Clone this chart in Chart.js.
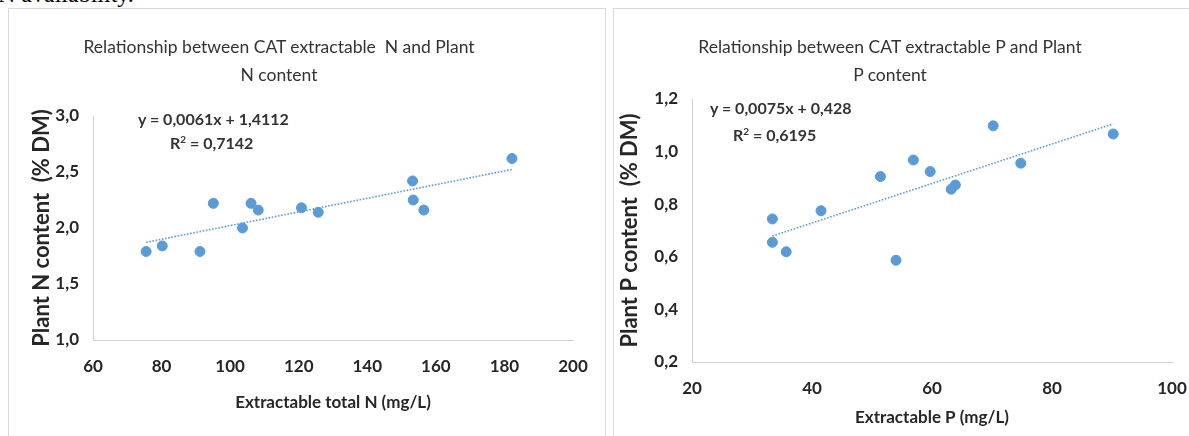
<!DOCTYPE html>
<html>
<head>
<meta charset="utf-8">
<script src="https://cdn.jsdelivr.net/npm/chart.js@4/dist/chart.umd.min.js"></script>
<style>
  html, body { margin: 0; padding: 0; background: #fff; }
  #page { position: relative; width: 1189px; height: 436px; overflow: hidden; background: #fff; font-family: Lato, "Open Sans", sans-serif; }
  .panel { position: absolute; border: 1px solid #d9d9d9; box-sizing: border-box; }
  .title { position: absolute; text-align: center; font-size: 17.5px; line-height: 28px; color: #333; width: 500px; }
  .eq { position: absolute; font-weight: bold; font-size: 16px; line-height: 18px; color: #333; white-space: nowrap; }
  .eq sup { font-size: 10px; line-height: 0; vertical-align: 6px; }
  canvas { position: absolute; }
  #doc { position: absolute; left: -2px; top: -18px; font-family: "Liberation Serif", serif; font-size: 24px; line-height: 24px; color: #000; white-space: nowrap; }
</style>
</head>
<body>
<div id="page">
  <div id="doc">N availability.</div>
  <div class="panel" style="left:8px; top:8px; width:598px; height:460px;"></div>
  <div class="panel" style="left:613px; top:8px; width:600px; height:460px;"></div>
  <canvas id="chartN" width="597" height="428" style="left:8px; top:8px;"></canvas>
  <canvas id="chartP" width="575" height="428" style="left:614px; top:8px;"></canvas>
  <div class="title" style="left:29px; top:33px;">Relationship between CAT extractable&nbsp; N and Plant<br>N content</div>
  <div class="title" style="left:640px; top:33px;">Relationship between CAT extractable P and Plant<br>P content</div>
  <div class="eq" style="left:138px; top:110px;">y = 0,0061x + 1,4112</div>
  <div class="eq" style="left:170px; top:134px;">R<sup>2</sup> = 0,7142</div>
  <div class="eq" style="left:710px; top:99px;">y = 0,0075x + 0,428</div>
  <div class="eq" style="left:733px; top:126px;">R<sup>2</sup> = 0,6195</div>
</div>
<script>
// ---- Data: N chart ----
const nExtractable = [75.5, 80.2, 91.2, 95.1, 103.6, 106.1, 108.2, 120.8, 125.7, 153.2, 153.4, 156.5, 182.2];
const nPlant       = [1.79, 1.84, 1.79, 2.22, 2.00, 2.22, 2.16, 2.18, 2.14, 2.42, 2.25, 2.16, 2.62];
const nTrendX = [75.5, 182.2];
const nTrendY = [1.872, 2.523];
const nXTicks = [60, 80, 100, 120, 140, 160, 180, 200];
const nYTicks = [1.0, 1.5, 2.0, 2.5, 3.0];

// ---- Data: P chart ----
const pExtractable = [33.4, 33.4, 35.7, 41.5, 51.4, 54.0, 56.9, 59.7, 63.2, 63.9, 70.2, 74.8, 90.2];
const pPlant       = [0.744, 0.655, 0.619, 0.775, 0.905, 0.587, 0.968, 0.924, 0.857, 0.873, 1.098, 0.956, 1.067];
const pTrendX = [33.4, 90.2];
const pTrendY = [0.679, 1.105];
const pXTicks = [20, 40, 60, 80, 100];
const pYTicks = [0.2, 0.4, 0.6, 0.8, 1.0, 1.2];

const BLUE = '#5B9BD5';
const AXIS = '#d0d0d0';
const TICK = '#262626';
const FONT = 'Lato, "Open Sans", sans-serif';

function pts(xs, ys) { return xs.map((x, i) => ({ x: x, y: ys[i] })); }
function comma(v) { return Number(v).toFixed(1).replace('.', ','); }

function makeChart(id, cfg) {
  return new Chart(document.getElementById(id), {
    type: 'scatter',
    data: {
      datasets: [
        { data: pts(cfg.tx, cfg.ty), showLine: true, borderColor: BLUE, borderWidth: 1.6, borderDash: [1.6, 1.6],
          pointRadius: 0, fill: false, order: 2 },
        { data: pts(cfg.xs, cfg.ys), backgroundColor: BLUE, borderColor: BLUE, pointRadius: 5, pointHoverRadius: 5, order: 1 }
      ]
    },
    options: {
      responsive: false, animation: false, events: [],
      layout: { padding: cfg.pad },
      plugins: { legend: { display: false }, tooltip: { enabled: false }, title: { display: false } },
      scales: {
        x: {
          type: 'linear', min: cfg.xTicks[0], max: cfg.xTicks[cfg.xTicks.length - 1],
          afterBuildTicks: s => { s.ticks = cfg.xTicks.map(v => ({ value: v })); },
          ticks: { padding: 16, color: TICK, font: { family: FONT, size: 17, weight: 'bold' }, callback: v => String(v) },
          grid: { display: false, drawTicks: false },
          border: { display: true, color: AXIS, width: 1 },
          title: { display: true, text: cfg.xTitle, color: TICK, font: { family: FONT, size: 17, weight: 'bold' }, padding: { top: 0, bottom: cfg.xTitlePad } },
          afterFit: s => { s.height = cfg.xH; s.paddingLeft = 0; s.paddingRight = 0; }
        },
        y: {
          type: 'linear', min: cfg.yTicks[0], max: cfg.yTicks[cfg.yTicks.length - 1],
          afterBuildTicks: s => { s.ticks = cfg.yTicks.map(v => ({ value: v })); },
          ticks: { padding: 14, color: TICK, font: { family: FONT, size: 17, weight: 'bold' }, callback: v => comma(v) },
          grid: { display: false, drawTicks: false },
          border: { display: true, color: AXIS, width: 1 },
          title: { display: true, text: cfg.yTitle, color: TICK, font: { family: FONT, size: 22, weight: 'bold' }, padding: { top: cfg.yTitlePad, bottom: 0 } },
          afterFit: s => { s.width = cfg.yW; s.paddingTop = 0; s.paddingBottom = 0; }
        }
      }
    }
  });
}

makeChart('chartN', {
  xs: nExtractable, ys: nPlant, tx: nTrendX, ty: nTrendY, xTicks: nXTicks, yTicks: nYTicks,
  xTitle: 'Extractable total N (mg/L)', yTitle: 'Plant N content  (% DM)',
  pad: { left: 0, top: 108, right: 32, bottom: 0 }, xH: 96, yW: 85, xTitlePad: 23, yTitlePad: 21
});
makeChart('chartP', {
  xs: pExtractable, ys: pPlant, tx: pTrendX, ty: pTrendY, xTicks: pXTicks, yTicks: pYTicks,
  xTitle: 'Extractable P (mg/L)', yTitle: 'Plant P content  (% DM)',
  pad: { left: 0, top: 91, right: 17, bottom: 0 }, xH: 74, yW: 78, xTitlePad: 8, yTitlePad: 3
});
</script>
</body>
</html>
